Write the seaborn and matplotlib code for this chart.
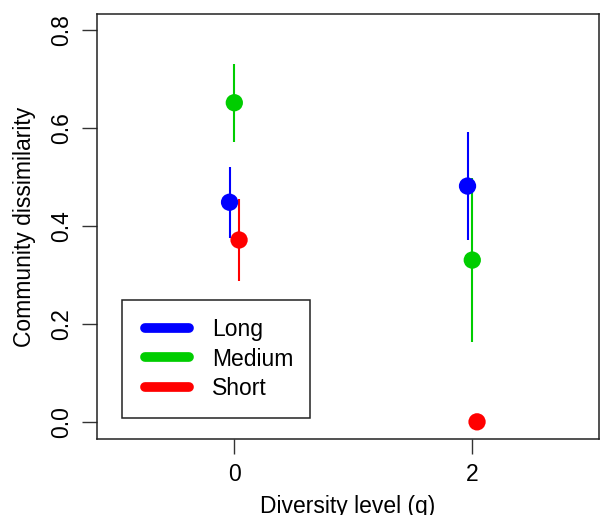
import matplotlib
matplotlib.use("Agg")
import matplotlib.pyplot as plt
import seaborn as sns
import pandas as pd
from matplotlib.lines import Line2D
from matplotlib.patches import Rectangle

groups = ["Long", "Medium", "Short"]
q_levels = [0, 2]
means_long = [0.449, 0.482]
means_medium = [0.652, 0.331]
means_short = [0.372, 0.001]
lower_long = [0.377, 0.372]
upper_long = [0.520, 0.593]
lower_medium = [0.571, 0.164]
upper_medium = [0.732, 0.498]
lower_short = [0.288, None]
upper_short = [0.456, None]
colors = {"Long": "#0000FF", "Medium": "#00CD00", "Short": "#FF0000"}

sns.set_style("ticks")
plt.rcParams["font.family"] = ["Liberation Sans", "DejaVu Sans"]
plt.rcParams["text.color"] = "black"
plt.rcParams["axes.labelcolor"] = "black"
plt.rcParams["xtick.color"] = "black"
plt.rcParams["ytick.color"] = "black"

fig = plt.figure(figsize=(6.0, 5.15), dpi=100)
ax = fig.add_axes([97 / 600, 1 - 439 / 515, 502 / 600, 425 / 515])

means = {"Long": means_long, "Medium": means_medium, "Short": means_short}
lows = {"Long": lower_long, "Medium": lower_medium, "Short": lower_short}
highs = {"Long": upper_long, "Medium": upper_medium, "Short": upper_short}
dodge = {"Long": -0.04, "Medium": 0.0, "Short": 0.04}

for g in groups:
    xs = [q + dodge[g] for q in q_levels]
    for x, lo, hi in zip(xs, lows[g], highs[g]):
        if lo is not None:
            ax.vlines(x, lo, hi, color=colors[g], lw=1.5, zorder=2)
    df = pd.DataFrame({"x": xs, "y": means[g]})
    sns.scatterplot(data=df, x="x", y="y", color=colors[g], s=155,
                    edgecolor="none", ax=ax, zorder=3)

ax.set_xlim(-1.154, 3.065)
ax.set_ylim(-0.034, 0.833)
ax.set_xticks(q_levels)
ax.set_xticklabels([str(q) for q in q_levels])
ax.set_yticks([0.0, 0.2, 0.4, 0.6, 0.8])
ax.set_yticklabels(["0.0", "0.2", "0.4", "0.6", "0.8"], rotation=90, va="center")
ax.tick_params(axis="both", length=10.5, width=1.0, pad=7, labelsize=16.5,
               color="#333333", labelcolor="black")
for s in ax.spines.values():
    s.set_linewidth(1.1)
    s.set_color("#222222")

ax.set_xlabel("Diversity level (q)", fontsize=16.5, labelpad=6)
ax.set_ylabel("Community dissimilarity", fontsize=16.5, labelpad=10)

# legend frame (R style box)
ax.add_patch(Rectangle((25 / 502, 21 / 425), 188 / 502, 118 / 425,
                       transform=ax.transAxes, fill=True, facecolor="white",
                       edgecolor="#222222", lw=1.1, zorder=5))
handles = [Line2D([0], [0], color=colors[g], lw=7, solid_capstyle="round") for g in groups]
leg = ax.legend(handles, groups, loc="center left",
                bbox_to_anchor=(48 / 502, 80 / 425),
                frameon=False, fontsize=16.5, handlelength=1.92,
                handletextpad=1.0, borderpad=0, labelspacing=0.29,
                borderaxespad=0)
leg.set_zorder(6)
for t in leg.get_texts():
    t.set_color("black")

fig.savefig("out.png", dpi=100)
